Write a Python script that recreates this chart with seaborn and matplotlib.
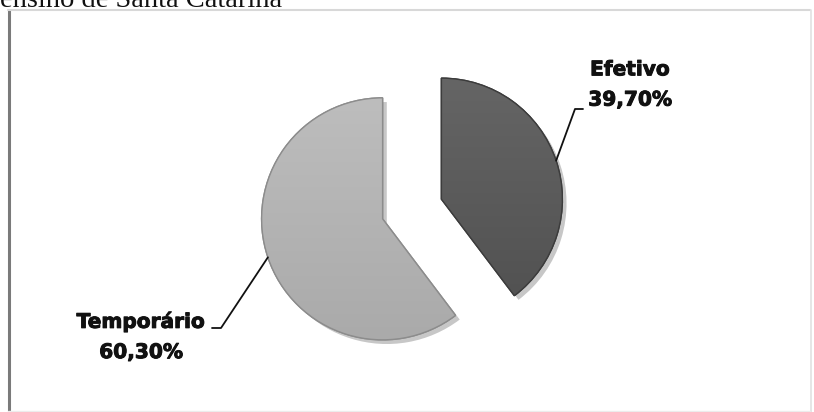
import numpy as np
import matplotlib
matplotlib.use("Agg")
import matplotlib.pyplot as plt
import matplotlib.patheffects as pe
from matplotlib.colors import LinearSegmentedColormap
import seaborn as sns

# ---- data ----
categories = ["Efetivo", "Temporário"]
values = [39.70, 60.30]
value_labels = ["39,70%", "60,30%"]
title_text = "ensino de Santa Catarina"

sns.set_theme(style="white")
plt.rcParams['font.family'] = ['DejaVu Sans']

W, H = 814, 412
fig = plt.figure(figsize=(W / 100, H / 100), dpi=100)
fig.patch.set_facecolor("white")
ax = fig.add_axes([0, 0, 1, 1])

colors = ["#5a5a5a", "#b2b2b2"]
grad_colors = [("#656565", "#525252"), ("#bdbdbd", "#aaaaaa")]
edge_colors = ["#3c3c3c", "#8c8c8c"]

center = (412, H - 209)
radius = 121
wedges, _ = ax.pie(values, explode=[31, 31], startangle=90, counterclock=False,
                   center=center, radius=radius, colors=colors,
                   wedgeprops=dict(linewidth=1.0),
                   frame=False)

for w, gc, ec in zip(wedges, grad_colors, edge_colors):
    w.set_edgecolor(ec)
    w.set_path_effects([pe.SimplePatchShadow(offset=(3, -3), shadow_rgbFace="#000000", alpha=0.22),
                        pe.Normal()])
    bb = w.get_path().get_extents(w.get_patch_transform())
    cmap = LinearSegmentedColormap.from_list("g", [gc[0], gc[1]])
    grad = np.linspace(0, 1, 256).reshape(-1, 1)
    im = ax.imshow(grad, extent=[bb.x0, bb.x1, bb.y0, bb.y1], origin="upper",
                   cmap=cmap, aspect="auto", zorder=w.get_zorder() + 0.05)
    im.set_clip_path(w)
    ax.add_patch(matplotlib.patches.Wedge(w.center, w.r, w.theta1, w.theta2,
                                          facecolor="none", edgecolor=ec, linewidth=1.0,
                                          zorder=w.get_zorder() + 0.1))

ax.set_xlim(0, W)
ax.set_ylim(0, H)
ax.set_aspect("auto")
ax.axis("off")

# ---- labels with leader lines ----
label_pos = [(630, H - 85), (141, H - 337)]
elbows = [[(575, H - 109), (583, H - 109)], [(221, H - 328), (212, H - 328)]]
for w, cat, vl, lp, el in zip(wedges, categories, value_labels, label_pos, elbows):
    thm = np.deg2rad(0.5 * (w.theta1 + w.theta2))
    sx = w.center[0] + w.r * np.cos(thm)
    sy = w.center[1] + w.r * np.sin(thm)
    xs = [sx] + [p[0] for p in el]
    ys = [sy] + [p[1] for p in el]
    ax.plot(xs, ys, color="#111111", linewidth=1.3, zorder=5)
    ax.text(lp[0], lp[1], f"{cat}\n{vl}", ha="center", va="center",
            fontsize=14.5, fontweight="bold", color="#111111",
            linespacing=1.75, zorder=6,
            path_effects=[pe.withStroke(linewidth=0.7, foreground="#111111")])

# ---- clipped title text and frame ----
fig.text(0, 1 - 7 / H, title_text, family="Liberation Serif", fontsize=20.5,
         color="#111111", ha="left", va="baseline")

top = 1 - 10 / H
fig.add_artist(plt.Line2D([8.5 / W, 8.5 / W], [0, top], color="#7a7a7a", linewidth=2.2))
fig.add_artist(plt.Line2D([8 / W, 810 / W], [top, top], color="#d8d8d8", linewidth=1.5))
fig.add_artist(plt.Line2D([810.5 / W, 810.5 / W], [0, top], color="#e2e2e2", linewidth=1.2))
fig.add_artist(plt.Line2D([8 / W, 810 / W], [1.2 / H, 1.2 / H], color="#ececec", linewidth=1.0))

fig.savefig("out.png", dpi=100, facecolor="white")
